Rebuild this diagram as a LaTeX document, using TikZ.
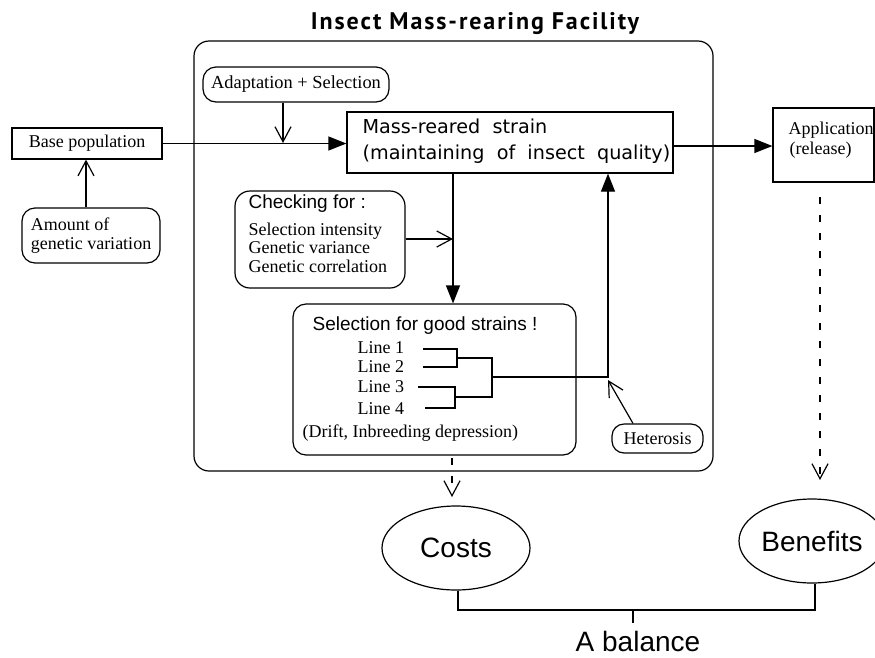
\documentclass[tikz,border=0pt]{standalone}
\usepackage{fontspec}
\setmainfont{Liberation Serif}
\newfontfamily\helv{Liberation Sans}
\newfontfamily\gen{DejaVu Sans}
\newfontfamily\titlef[LetterSpace=8]{PT Sans}
\usetikzlibrary{arrows.meta,shapes.geometric}
\begin{document}
\begin{tikzpicture}[x=1pt,y=-1pt,line width=1.2pt,
  serif/.style={font=\fontsize{18}{19.5}\selectfont},
  sans/.style={font=\helv\fontsize{19}{21}\selectfont},
  box/.style={draw,rectangle,inner sep=0pt},
  rbox/.style={draw,rectangle,rounded corners=13pt,inner sep=0pt},
  txt/.style={inner sep=0pt,anchor=base west},
  open/.style={-{Straight Barb[length=15pt,width=16pt]}},
  fill/.style={-{Triangle[length=18pt,width=14pt]}},
  dsh/.style={dash pattern=on 7pt off 11pt},
  oval/.style={draw,ellipse,inner sep=0pt,font=\helv\fontsize{28}{30}\selectfont}]
\useasboundingbox (0,0) rectangle (875,657);

% title and facility frame
\node[inner sep=0pt,anchor=base,font=\titlef\bfseries\fontsize{24}{26}\selectfont] (title) at (475,29) {Insect Mass-rearing Facility};
\draw[rounded corners=15pt] (194,41) rectangle (713,471);

% boxes
\node[box,serif,minimum width=150pt,minimum height=31pt] (base) at (87,143.5) {Base population};
\node[rbox,serif,align=left,minimum width=138pt,minimum height=55pt] (amount) at (91,235.5) {Amount of\\genetic variation};
\node[rbox,serif,font=\fontsize{18.4}{20}\selectfont,minimum width=186pt,minimum height=35pt] (adapt) at (296,84.5) {Adaptation + Selection};
\node[box,minimum width=326pt,minimum height=61pt] (mass) at (510,142.5) {};
\node[txt,font=\gen\fontsize{19.2}{20}\selectfont] (m1) at (362,133) {Mass-reared~~strain};
\node[txt,font=\gen\fontsize{19.2}{20}\selectfont] (m2) at (362,159) {(maintaining~~of~~insect~~quality)};
\node[box,minimum width=101pt,minimum height=74pt] (app) at (823.5,145) {};
\node[txt,serif] (a1) at (788,134) {Application};
\node[txt,serif] (a2) at (789,154) {(release)};

\node[rbox,rounded corners=15pt,minimum width=170pt,minimum height=97pt] (check) at (320,239.5) {};
\node[txt,sans] (c0) at (248,208) {Checking for :};
\node[txt,serif] (c1) at (248,235) {Selection intensity};
\node[txt,serif] (c2) at (248,253.5) {Genetic variance};
\node[txt,serif] (c3) at (248,272) {Genetic correlation};

\node[rbox,minimum width=283pt,minimum height=151pt] (sel) at (434.5,379.5) {};
\node[txt,sans] (s0) at (312,330) {Selection for good strains !};
\node[txt,serif] (l1) at (357,353) {Line 1};
\node[txt,serif] (l2) at (357,372) {Line 2};
\node[txt,serif] (l3) at (357,392) {Line 3};
\node[txt,serif] (l4) at (357,414) {Line 4};
\node[txt,serif] (drift) at (302,437) {(Drift, Inbreeding depression)};

\node[rbox,serif,rounded corners=12pt,minimum width=91pt,minimum height=29pt] (het) at (657.5,438.5) {Heterosis};

\node[oval,minimum width=148pt,minimum height=84pt] (costs) at (456,548) {Costs};
\node[oval,minimum width=146pt,minimum height=84pt] (ben) at (812,541) {Benefits};
\node[inner sep=0pt,anchor=base,font=\helv\fontsize{28}{30}\selectfont] (bal) at (638,651) {A balance};

% connectors
\draw[fill] (base.east) -- (mass.west |- base.east);
\draw[open] (amount.north -| 86,0) -- (base.south -| 86,0);
\coordinate (aj) at (283,143);
\draw[open] (adapt.south -| aj) -- (aj);
\draw[fill] (mass.east |- 0,146) -- (app.west |- 0,146);
\coordinate (cj) at (453,239);
\draw[fill] (mass.south -| cj) -- (sel.north -| cj);
\draw[open] (check.east |- cj) -- (cj);

% dendrogram
\coordinate (d1) at (423,349);
\coordinate (d2) at (423,367);
\coordinate (d3) at (418,387);
\coordinate (d4) at (425,408);
\draw (d1) -- (457,349) -- (457,367) -- (d2);
\draw (d3) -- (455,387) -- (455,408) -- (d4);
\draw (457,358) -- (492,358) -- (492,397) -- (455,397);
\coordinate (hj) at (608,377);
\draw[fill] (492,377) -- (hj) -- (mass.south -| hj);
\draw[open] (het.north -| 633,0) -- (hj |- 0,380);

% dashed outcomes
\draw[dsh,open] (sel.south -| 452,0) ++(0,2) -- (452,497);
\draw[dsh,open] (820,197) -- (820,480);

% balance
\coordinate (bl) at (458,610);
\coordinate (br) at (815,610);
\draw (costs.south -| bl) -- (bl) -- (br) -- (ben.south -| br);
\draw (633,610) -- (633,623);
\end{tikzpicture}
\end{document}
